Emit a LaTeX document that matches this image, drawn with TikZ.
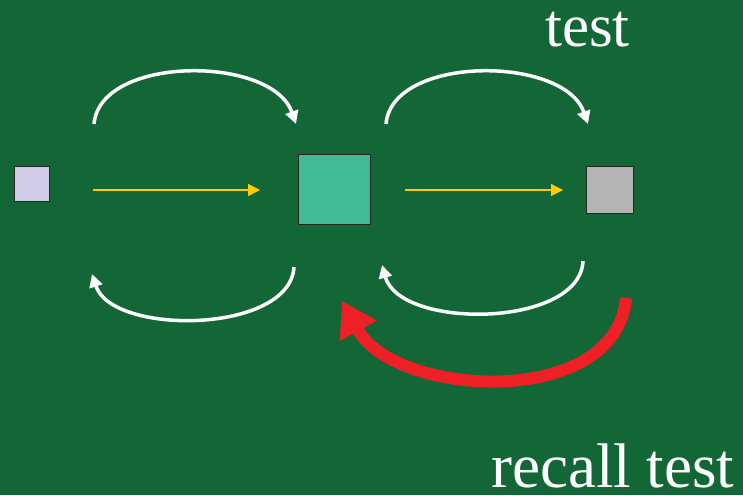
\documentclass[tikz,border=0pt]{standalone}
\usepackage{fontspec}
\setmainfont{Liberation Serif}
\usetikzlibrary{arrows.meta}
\definecolor{bg}{HTML}{136635}
\definecolor{lav}{HTML}{D0CCE8}
\definecolor{teal}{HTML}{40BD94}
\definecolor{grayb}{HTML}{B4B4B4}
\definecolor{yel}{HTML}{FFCC00}
\definecolor{redarr}{HTML}{EE2025}
\definecolor{edge}{HTML}{262626}
\tikzset{
  boxnode/.style={draw=edge, line width=1.5pt, inner sep=0pt, outer sep=0pt},
  yelarrow/.style={draw=yel, line width=1.3pt, -{Triangle[length=12pt,width=12pt]}},
  whitearc/.style={draw=white, line width=3.5pt, -{Triangle[length=13pt,width=13pt]}},
  redarc/.style={draw=redarr, line width=12pt, -{Triangle[length=34pt,width=40pt]}},
  lbl/.style={text=white, inner sep=0pt, text depth=0pt}
}
\begin{document}
\begin{tikzpicture}[x=1pt,y=-1pt]
\fill[bg] (0,0) rectangle (743,495);
\useasboundingbox (0,0) rectangle (743,495);
% boxes
\node[boxnode, fill=lav, minimum width=35pt, minimum height=35pt] (A) at (32,184) {};
\node[boxnode, fill=teal, minimum width=72pt, minimum height=70pt] (B) at (334.5,189.5) {};
\node[boxnode, fill=grayb, minimum width=47pt, minimum height=47pt] (C) at (610,190) {};
% yellow arrows
\coordinate (y1s) at (93,190);
\coordinate (y1e) at (260,190);
\coordinate (y2s) at (405,190);
\coordinate (y2e) at (563,190);
\draw[yelarrow] (y1s) -- (y1e);
\draw[yelarrow] (y2s) -- (y2e);
% white arcs
\coordinate (t1s) at (94,124);
\coordinate (t1e) at (296,124);
\coordinate (t2s) at (386,124);
\coordinate (t2e) at (588,124);
\coordinate (b1s) at (294,267);
\coordinate (b1e) at (92,274);
\coordinate (b2s) at (583,261);
\coordinate (b2e) at (382,265);
\draw[whitearc] (t1s) .. controls (100,55) and (272,55) .. (t1e);
\draw[whitearc] (t2s) .. controls (392,55) and (564,55) .. (t2e);
\draw[whitearc] (b1s) .. controls (290,334) and (112,336) .. (b1e);
\draw[whitearc] (b2s) .. controls (580,328) and (400,330) .. (b2e);
% red arc
\coordinate (rs) at (626,298);
\coordinate (re) at (342,301);
\draw[redarc] (rs) .. controls (616,410) and (395,398) .. (re);
% labels
\node[lbl, font=\fontsize{61}{70}\selectfont, anchor=base west] (L1) at (545,47) {test};
\node[lbl, font=\fontsize{63}{72}\selectfont, anchor=base west] (L2) at (491,487) {recall test};
\end{tikzpicture}
\end{document}
